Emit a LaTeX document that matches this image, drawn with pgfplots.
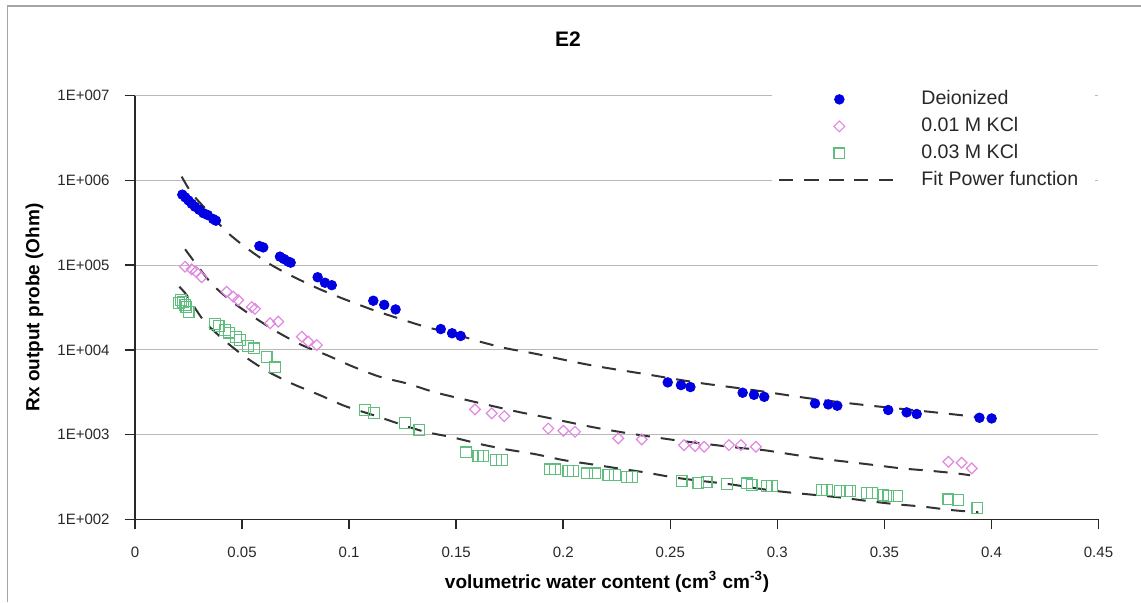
\documentclass[border=0pt]{standalone}
\usepackage{fontspec}
\setmainfont{Liberation Sans}
\usepackage{pgfplots}
\usepackage{pgfplotstable}
\pgfplotsset{compat=1.18}
\definecolor{deiblue}{RGB}{0,0,225}
\definecolor{kclpink}{RGB}{225,135,225}
\definecolor{kclgreen}{RGB}{95,190,125}
\definecolor{gridgray}{RGB}{185,185,185}
\definecolor{framegray}{RGB}{165,165,165}
\definecolor{txt}{RGB}{40,40,40}

\pgfplotstableread{
x y
0.0221 6.8e5
0.0235 6.3e5
0.0250 5.8e5
0.0265 5.3e5
0.0280 4.9e5
0.0300 4.5e5
0.0320 4.1e5
0.0340 3.9e5
0.0365 3.5e5
0.0378 3.35e5
0.0581 1.68e5
0.0599 1.62e5
0.0677 1.26e5
0.0696 1.18e5
0.0716 1.10e5
0.0727 1.07e5
0.0853 7.2e4
0.0887 6.2e4
0.0919 5.8e4
0.1113 3.8e4
0.1164 3.4e4
0.1217 3.0e4
0.1428 1.76e4
0.1481 1.57e4
0.1521 1.46e4
0.2488 4.13e3
0.2550 3.84e3
0.2594 3.64e3
0.2838 3.12e3
0.2891 2.95e3
0.2939 2.79e3
0.3176 2.33e3
0.3238 2.27e3
0.3280 2.19e3
0.3518 1.95e3
0.3604 1.83e3
0.3651 1.75e3
0.3944 1.58e3
0.4001 1.55e3
}\deionized

\pgfplotstableread{
x y
0.0234 9.6e4
0.0265 8.9e4
0.0285 8.4e4
0.0311 7.2e4
0.0428 4.85e4
0.0459 4.24e4
0.0482 3.87e4
0.0545 3.2e4
0.0560 3.05e4
0.0631 2.06e4
0.0669 2.15e4
0.0779 1.43e4
0.0809 1.25e4
0.0849 1.14e4
0.1588 1.98e3
0.1666 1.78e3
0.1725 1.65e3
0.1930 1.18e3
0.2001 1.11e3
0.2055 1.08e3
0.2257 901
0.2367 877
0.2564 752
0.2616 732
0.2658 718
0.2774 752
0.2830 752
0.2900 718
0.3799 478
0.3861 465
0.3908 399
}\kclA

\pgfplotstableread{
x y
0.0205 3.6e4
0.0215 3.9e4
0.0225 3.7e4
0.0235 3.4e4
0.0240 3.2e4
0.0250 2.8e4
0.0374 2.02e4
0.0390 1.9e4
0.0420 1.71e4
0.0440 1.6e4
0.0472 1.43e4
0.0490 1.3e4
0.0529 1.11e4
0.0556 1.04e4
0.0615 8.3e3
0.0654 6.2e3
0.1074 1.95e3
0.1116 1.81e3
0.1261 1.38e3
0.1328 1.13e3
0.1546 617
0.1604 557
0.1627 557
0.1685 500
0.1713 500
0.1938 388
0.1962 388
0.2024 371
0.2047 371
0.2110 348
0.2149 348
0.2211 333
0.2242 333
0.2297 318
0.2320 318
0.2553 282
0.2631 270
0.2670 277
0.2764 261
0.2857 265
0.2880 253
0.2950 246
0.2974 246
0.3207 221
0.3231 221
0.3293 215
0.3324 215
0.3340 215
0.3418 206
0.3441 206
0.3495 193
0.3519 188
0.3558 188
0.3799 172
0.3845 169
0.3934 135
}\kclB

\pgfplotstableread{
x y
0.0218 1.11e6
0.0265 7.05e5
0.0335 4.47e5
0.0428 2.48e5
0.0529 1.54e5
0.0638 1.00e5
0.0755 6.98e4
0.0872 5.08e4
0.0989 3.87e4
0.1113 2.95e4
0.1230 2.36e4
0.1354 1.88e4
0.1479 1.57e4
0.1611 1.25e4
0.1736 1.04e4
0.1860 9.1e3
0.2125 6.62e3
0.2382 5.18e3
0.2631 4.09e3
0.2888 3.35e3
0.3153 2.67e3
0.3410 2.23e3
0.3667 1.91e3
0.3950 1.60e3
}\fitA

\pgfplotstableread{
x y
0.0234 1.54e5
0.0350 6.37e4
0.0444 3.87e4
0.0553 2.46e4
0.0662 1.64e4
0.0779 1.14e4
0.0895 8.69e3
0.1020 6.31e3
0.1144 4.81e3
0.1269 4.02e3
0.1393 3.20e3
0.1518 2.67e3
0.1775 1.89e3
0.1907 1.62e3
0.2032 1.39e3
0.2156 1.20e3
0.2289 1.05e3
0.2413 942
0.2546 845
0.2802 706
0.2935 656
0.3059 588
0.3191 524
0.3324 478
0.3456 436
0.3581 399
0.3713 374
0.3838 348
0.3900 331
}\fitB

\pgfplotstableread{
x y
0.0207 5.56e4
0.0241 4.44e4
0.0319 2.25e4
0.0412 1.33e4
0.0514 8.29e3
0.0623 5.51e3
0.0739 3.94e3
0.0864 2.92e3
0.0981 2.17e3
0.1113 1.70e3
0.1238 1.33e3
0.1354 1.08e3
0.1484 927
0.1611 773
0.1736 668
0.1868 588
0.2001 500
0.2125 449
0.2257 399
0.2382 358
0.2514 313
0.2638 285
0.2771 261
0.2904 232
0.3028 211
0.3285 182
0.3418 165
0.3550 151
0.3682 141
0.3807 129
0.3939 121
}\fitC

\begin{document}
\begin{tikzpicture}
\useasboundingbox (0,0) rectangle (570.5pt,301pt);
\draw[framegray, line width=0.6pt] (3.65pt,0pt) -- (3.65pt,298pt) -- (570.5pt,298pt);
\begin{axis}[
  at={(67.5pt,41.35pt)}, anchor=south west,
  scale only axis, width=481.75pt, height=211.8pt,
  xmin=0, xmax=0.45, ymode=log, ymin=1e2, ymax=1e7,
  axis x line*=bottom, axis y line*=left,
  axis line style={txt, line width=0.75pt},
  tick align=outside, major tick length=5pt,
  tick style={txt, line width=0.75pt},
  yminorticks=false,
  xtick={0,0.05,0.1,0.15,0.2,0.25,0.3,0.35,0.4,0.45},
  xticklabels={0,0.05,0.1,0.15,0.2,0.25,0.3,0.35,0.4,0.45},
  ytick={1e2,1e3,1e4,1e5,1e6,1e7},
  yticklabels={1E+002,1E+003,1E+004,1E+005,1E+006,1E+007},
  ymajorgrids, major grid style={gridgray, line width=0.5pt},
  ticklabel style={font=\fontsize{7.5}{9}\selectfont, text=txt},
  xticklabel style={inner sep=0pt, anchor=north},
  yticklabel style={inner sep=0pt, anchor=east},
  xticklabel shift=8.5pt, yticklabel shift=7.5pt,
  title={E2},
  title style={at={(axis description cs:0.4494,1.1055)}, anchor=center, font=\fontsize{10.5}{12}\selectfont\bfseries, text=black},
  xlabel={volumetric water content (cm\textsuperscript{3} cm\textsuperscript{-3})},
  xlabel style={at={(axis description cs:0.49,-0.148)}, anchor=center, font=\fontsize{9.5}{11}\selectfont\bfseries, text=black},
  ylabel={Rx output probe (Ohm)},
  ylabel style={at={(axis description cs:-0.1043,0.5)}, anchor=center, font=\fontsize{9.5}{11}\selectfont\bfseries, text=black},
  legend style={at={(axis description cs:0.6611,1.03)}, anchor=north west, draw=none, fill=white,
    inner sep=3pt, column sep=10pt, row sep=3.5pt,
    font=\fontsize{9.8}{11}\selectfont, text=txt,
    nodes={inner sep=0.5pt, text height=7pt, text depth=2pt}},
  legend cell align=left,
  mylegend/.style={legend image code/.code={\draw[mark repeat=2,mark phase=2,##1] plot coordinates {(0pt,0pt) (30pt,0pt) (60pt,0pt)};}},
]
\addplot[only marks, mark=*, mark size=2.4pt, draw=deiblue, fill=deiblue, mylegend] table[x=x,y=y] {\deionized};
\addlegendentry{Deionized}
\addplot[only marks, mark=square, mark size=1.9pt, mark options={rotate=45, draw=kclpink, line width=0.6pt}, kclpink, mylegend] table[x=x,y=y] {\kclA};
\addlegendentry{0.01 M KCl}
\addplot[only marks, mark=square, mark size=2.7pt, mark options={draw=kclgreen, line width=0.6pt}, kclgreen, mylegend] table[x=x,y=y] {\kclB};
\addlegendentry{0.03 M KCl}
\addplot[no marks, black!80, line width=1pt, dash pattern=on 7pt off 5.5pt, smooth, mylegend] table[x=x,y=y] {\fitA};
\addlegendentry{Fit Power function\hspace*{5pt}}
\addplot[no marks, black!80, line width=1pt, dash pattern=on 7pt off 5.5pt, smooth, forget plot] table[x=x,y=y] {\fitB};
\addplot[no marks, black!80, line width=1pt, dash pattern=on 7pt off 5.5pt, smooth, forget plot] table[x=x,y=y] {\fitC};
\end{axis}
\end{tikzpicture}
\end{document}
